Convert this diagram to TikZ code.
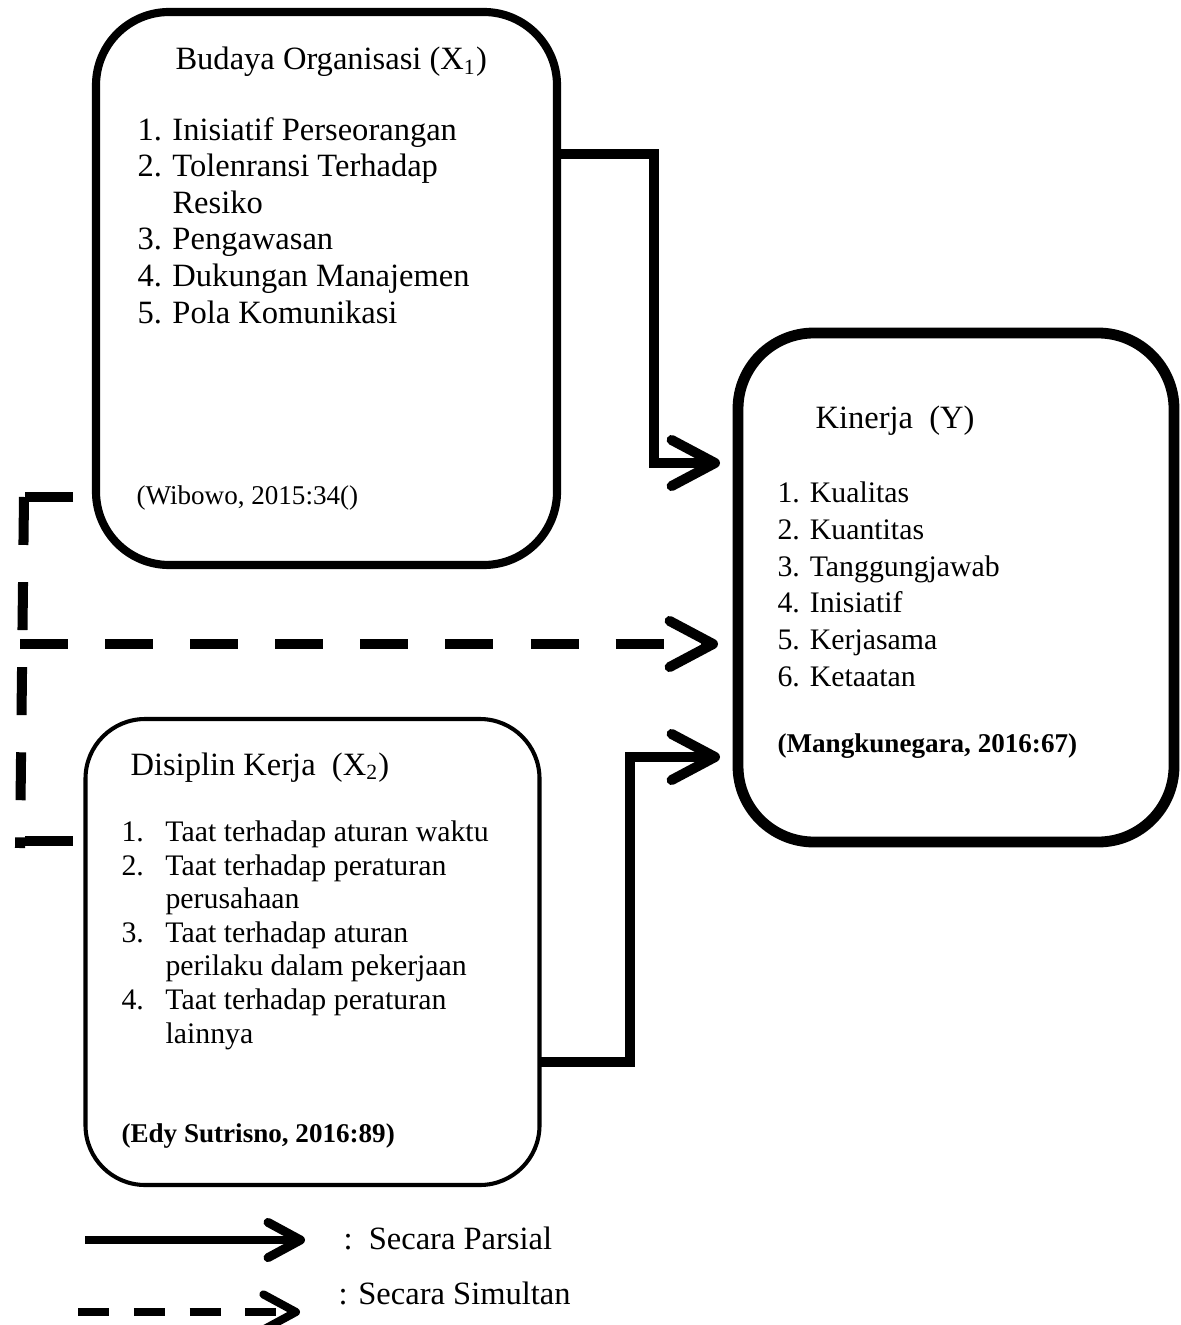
\documentclass[tikz,border=0pt]{standalone}
\usepackage{fontspec}
\setmainfont{Liberation Serif}
\usetikzlibrary{arrows.meta}

\newcommand\pxu{0.369pt}
\newcommand\butir[2]{\makebox[#1][l]{#2}}

\begin{document}
\begin{tikzpicture}[x=0.369pt, y=-0.369pt,
    kotak/.style={draw, inner sep=0pt, outer sep=0pt},
    judul/.style={anchor=base west, inner sep=0pt, font=\fontsize{12}{14}\selectfont},
    isi/.style={anchor=base west, inner sep=0pt, font=\fontsize{12}{14}\selectfont},
    isikecil/.style={anchor=base west, inner sep=0pt, font=\fontsize{11}{13}\selectfont},
    sumber/.style={anchor=base west, inner sep=0pt, font=\fontsize{10}{12}\selectfont},
    parsial/.style={line width=3.7pt, -{Straight Barb[length=16pt, width=17pt, round]}},
    simultan/.style={line width=3.7pt, dash pattern=on 17.7pt off 13.7pt},
]

\useasboundingbox (0,0) rectangle (1181,1325);
\clip (0,0) rectangle (1181,1325);

% kotak variabel
\node[kotak, line width=3pt, rounded corners=27pt,
      minimum width=461*\pxu, minimum height=553*\pxu] (budaya) at (326.5,288.5) {};
\node[kotak, line width=4pt, rounded corners=28pt,
      minimum width=436*\pxu, minimum height=509*\pxu] (kinerja) at (956,587.5) {};
\node[kotak, line width=1.5pt, rounded corners=22pt,
      minimum width=454*\pxu, minimum height=466*\pxu] (disiplin) at (312.5,952) {};

% isi Budaya Organisasi
\node[judul] (budayaJ) at (175,70) {Budaya Organisasi (X\textsubscript{1})};
\node[isi] (budaya1) at (137,140.5) {\butir{12.9pt}{1.}Inisiatif Perseorangan};
\node[isi] (budaya2) at (137,177) {\butir{12.9pt}{2.}Tolenransi Terhadap};
\node[isi] (budaya2b) at (172,213.5) {Resiko};
\node[isi] (budaya3) at (137,250) {\butir{12.9pt}{3.}Pengawasan};
\node[isi] (budaya4) at (137,287) {\butir{12.9pt}{4.}Dukungan Manajemen};
\node[isi] (budaya5) at (137,323.5) {\butir{12.9pt}{5.}Pola Komunikasi};
\node[sumber] (budayaS) at (136,504) {(Wibowo, 2015:34()};

% isi Kinerja
\node[judul] (kinerjaJ) at (815,429) {Kinerja\ \ (Y)};
\node[isikecil] (kinerja1) at (777,502) {1. Kualitas};
\node[isikecil] (kinerja2) at (777,539) {2. Kuantitas};
\node[isikecil] (kinerja3) at (777,576) {3. Tanggungjawab};
\node[isikecil] (kinerja4) at (777,612) {4. Inisiatif};
\node[isikecil] (kinerja5) at (777,649) {5. Kerjasama};
\node[isikecil] (kinerja6) at (777,686) {6. Ketaatan};
\node[sumber, font=\fontsize{10}{12}\selectfont\bfseries] (kinerjaS) at (777,752) {(Mangkunegara, 2016:67)};

% isi Disiplin Kerja
\node[judul] (disiplinJ) at (130,775) {Disiplin Kerja\ \ (X\textsubscript{2})};
\node[isikecil] (disiplin1) at (121,841) {\butir{16.2pt}{1.}Taat terhadap aturan waktu};
\node[isikecil] (disiplin2) at (121,875) {\butir{16.2pt}{2.}Taat terhadap peraturan};
\node[isikecil] (disiplin2b) at (165,908) {perusahaan};
\node[isikecil] (disiplin3) at (121,942) {\butir{16.2pt}{3.}Taat terhadap aturan};
\node[isikecil] (disiplin3b) at (165,975) {perilaku dalam pekerjaan};
\node[isikecil] (disiplin4) at (121,1009) {\butir{16.2pt}{4.}Taat terhadap peraturan};
\node[isikecil] (disiplin4b) at (165,1043) {lainnya};
\node[sumber, font=\fontsize{10}{12}\selectfont\bfseries] (disiplinS) at (121,1142) {(Edy Sutrisno, 2016:89)};

% ujung panah
\coordinate (panahA) at (720,463);
\coordinate (panahB) at (720,757);
\coordinate (panahS) at (718,644);
\coordinate (kiriA) at (73,497);
\coordinate (kiriB) at (76,841);
\coordinate (tegakA) at (24,497);
\coordinate (tegakB) at (20,848);

% panah parsial
\draw[parsial] (budaya.east |- 0,154) -| (654,463) -- (panahA);
\draw[parsial] (disiplin.east |- 0,1062) -| (630,757) -- (panahB);

% panah simultan
\draw[simultan] (kiriA) -- (25,497);
\draw[simultan] (tegakA) -- (tegakB);
\draw[simultan] (25,841) -- (kiriB);
\draw[simultan, -{Straight Barb[length=16pt, width=17pt, round]}] (20,644) -- (panahS);

% keterangan
\coordinate (ketA) at (305,1240);
\coordinate (ketB) at (300,1312);
\draw[line width=3.3pt, -{Straight Barb[length=12pt, width=13pt, round]}] (85,1240) -- (ketA);
\draw[line width=3pt, dash pattern=on 11.4pt off 9.2pt,
      -{Straight Barb[length=12pt, width=13pt, round]}] (78,1312) -- (ketB);
\node[isi] (ketParsial) at (343,1249) {:\ \ Secara Parsial};
\node[isi] (ketSimultan) at (338,1304) {: Secara Simultan};

\end{tikzpicture}
\end{document}
